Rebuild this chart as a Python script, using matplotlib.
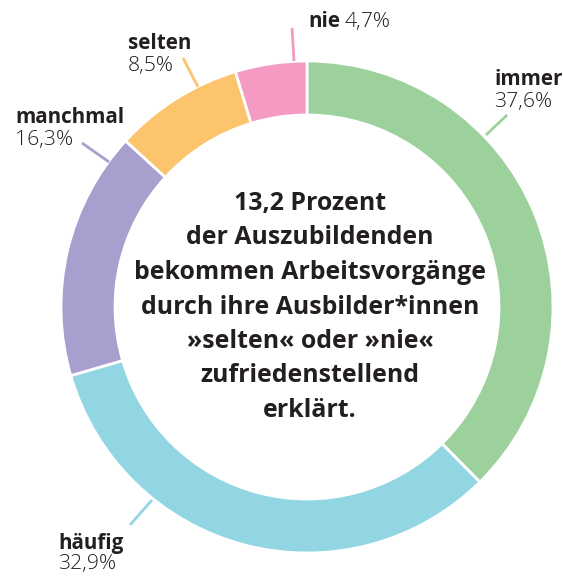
import matplotlib
matplotlib.use("Agg")
import matplotlib.pyplot as plt
import numpy as np

categories = ["immer", "häufig", "manchmal", "selten", "nie"]
values = [37.6, 32.9, 16.3, 8.5, 4.7]
value_labels = ["37,6%", "32,9%", "16,3%", "8,5%", "4,7%"]
colors = ["#9dd19c", "#93d6e3", "#a7a0ce", "#fdc46e", "#f49ac3"]
center_text = ["13,2 Prozent", "der Auszubildenden", "bekommen Arbeitsvorgänge",
               "durch ihre Ausbilder*innen", "»selten« oder »nie«",
               "zufriedenstellend", "erklärt."]

W, H = 563, 577
fig = plt.figure(figsize=(W / 100, H / 100), dpi=100)
ax = fig.add_axes([0, 0, 1, 1])

def py(y):
    return H - y

cx, cy = 307, 307
R = 246
width = 54
ax.pie(values, colors=colors, startangle=90, counterclock=False,
       center=(cx, py(cy)), radius=R, frame=True,
       wedgeprops=dict(width=width, edgecolor="white", linewidth=2))
ax.set_xlim(0, W)
ax.set_ylim(0, H)
ax.set_aspect("equal")
ax.axis("off")

dark = "#231f20"
font = "Open Sans"
renderer = fig.canvas.get_renderer()

def fitted_size(text, target_px, weight, base=12):
    t = ax.text(0, 0, text, fontsize=base, fontweight=weight, family=font)
    w = t.get_window_extent(renderer).width
    t.remove()
    return base * target_px / w

bold_lab = fitted_size("manchmal", 109, "bold")
reg_lab = fitted_size("16,3%", 58, "light")
center_size = fitted_size("bekommen Arbeitsvorgänge", 352, "bold")

label_pos = {
    "immer": (494, 85, 22),
    "häufig": (58, 549, 20),
    "manchmal": (15, 123, 22),
    "selten": (128, 49, 22),
}
leaders = {
    "immer": ((486, 135), (507, 115)),
    "häufig": ((152, 500), (130, 525)),
    "manchmal": ((109, 162), (82, 143)),
    "selten": ((198, 87), (183, 58)),
    "nie": ((294, 61), (292, 28)),
}
for i, cat in enumerate(categories):
    (x1, y1), (x2, y2) = leaders[cat]
    ax.plot([x1, x2], [py(y1), py(y2)], color=colors[i], lw=2, solid_capstyle="butt")
    if cat in label_pos:
        x, y, gap = label_pos[cat]
        ax.text(x, py(y), cat, fontsize=bold_lab, fontweight="bold", color=dark,
                family=font, ha="left", va="baseline")
        ax.text(x, py(y + gap), value_labels[i], fontsize=reg_lab, fontweight="light",
                color=dark, family=font, ha="left", va="baseline")

ax.text(308, py(27), categories[4], fontsize=bold_lab, fontweight="bold", color=dark,
        family=font, ha="left", va="baseline")
ax.text(345, py(27), value_labels[4], fontsize=reg_lab, fontweight="light", color=dark,
        family=font, ha="left", va="baseline")

y0 = 210
for k, line in enumerate(center_text):
    ax.text(cx + 3, py(y0 + 34.5 * k), line, fontsize=center_size, fontweight="bold",
            color=dark, family=font, ha="center", va="baseline")

fig.savefig("out.png", dpi=100, facecolor="white")
